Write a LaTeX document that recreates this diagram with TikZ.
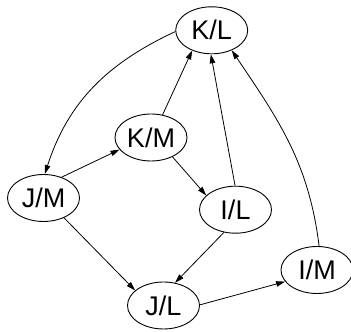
\documentclass[tikz,border=0pt]{standalone}
\usepackage{fontspec}
\setmainfont{Liberation Sans}
\usetikzlibrary{shapes.geometric,arrows.meta}
\begin{document}
\begin{tikzpicture}[x=1pt,y=1pt,
  state/.style={ellipse,draw,line width=0.9pt,minimum width=72pt,minimum height=47pt,inner sep=0pt,font=\fontsize{27}{27}\selectfont},
  edge/.style={line width=0.8pt,-{Triangle[length=9pt,width=5.5pt]}}]
\useasboundingbox (0,0) rectangle (351,332);
\node[state] (KL) at (211.7,301.7) {K/L};
\node[state] (KM) at (151,194.5) {K/M};
\node[state] (JM) at (43.5,134) {J/M};
\node[state] (IL) at (235.5,122.3) {I/L};
\node[state] (JL) at (163.5,26.5) {J/L};
\node[state] (IM) at (317,62) {I/M};
\draw[edge] (KL.182) to[out=205,in=72] (JM.87);
\draw[edge] (JM.49) -- (KM.201);
\draw[edge] (KM.63) -- (KL.226);
\draw[edge] (KM.-42) -- (IL.154);
\draw[edge] (IL.91) -- (KL.268);
\draw[edge] (IM.85) to[out=97,in=-56] (KL.-45);
\draw[edge] (JM.-44) -- (JL.152);
\draw[edge] (IL.243) -- (JL.63);
\draw[edge] (JL.1) -- (IM.200);
\end{tikzpicture}
\end{document}
